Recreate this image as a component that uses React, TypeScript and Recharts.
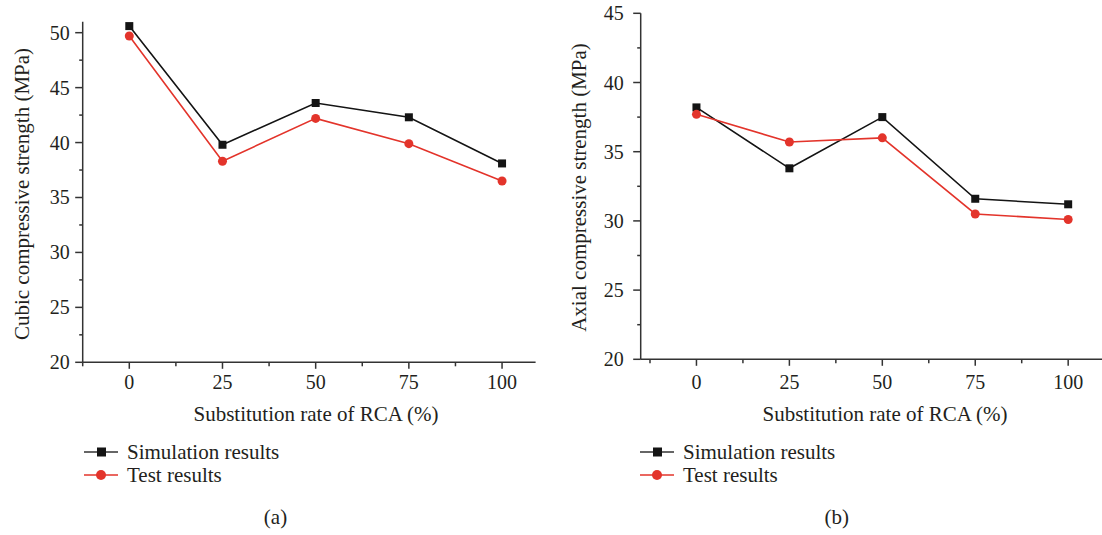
import React from 'react';
import { LineChart, Line, XAxis, YAxis, Legend } from 'recharts';

// ---- data ----
const rcaRates = [0, 25, 50, 75, 100];
const cubicSimulation = [50.6, 39.8, 43.6, 42.3, 38.1];
const cubicTest = [49.7, 38.3, 42.2, 39.9, 36.5];
const axialSimulation = [38.2, 33.8, 37.5, 31.6, 31.2];
const axialTest = [37.7, 35.7, 36.0, 30.5, 30.1];

const xMajorTicks = [0, 25, 50, 75, 100];
const xMinorTicks = [-12.5, 12.5, 37.5, 62.5, 87.5];
const cubicYMajor = [20, 25, 30, 35, 40, 45, 50];
const cubicYMinor = [22.5, 27.5, 32.5, 37.5, 42.5, 47.5];
const axialYMajor = [20, 25, 30, 35, 40, 45];
const axialYMinor = [22.5, 27.5, 32.5, 37.5, 42.5];

const seriesNames = ['Simulation results', 'Test results'];
const xTitle = 'Substitution rate of RCA (%)';
const cubicTitle = 'Cubic compressive strength (MPa)';
const axialTitle = 'Axial compressive strength (MPa)';

// ---- style ----
const FONT = '"Liberation Serif", "Times New Roman", serif';
const TEXT = '#231f20';
const AXIS = '#333333';
const BLACK = '#141414';
const RED = '#e3342b';

const build = (sim: number[], test: number[]) =>
  rcaRates.map((r, i) => ({ rate: r, sim: sim[i], test: test[i] }));

const SquareDot = (p: any) => {
  if (p.cx == null || p.cy == null) return <g key={`sq-${p.index}`} />;
  return <rect key={`sq-${p.index}`} x={p.cx - 4} y={p.cy - 4} width={8} height={8} fill={BLACK} />;
};

type PanelProps = {
  left: number;
  sim: number[];
  test: number[];
  yDomain: [number, number];
  xDomain: [number, number];
  yMajor: number[];
  yMinor: number[];
  margin: { top: number; left: number; right: number; bottom: number };
  yTitle: string;
  yTitleX: number;
  yTitleY: number;
  yLabelGap: number;
  xLabelBaseline: number;
  xTitleBaseline: number;
  xTitleCenter: number;
  legendLeft: number;
};

const Panel = (cfg: PanelProps) => {
  const data = build(cfg.sim, cfg.test);
  const xTicks = [...xMinorTicks, ...xMajorTicks].sort((a, b) => a - b);
  const yTicks = [...cfg.yMinor, ...cfg.yMajor].sort((a, b) => a - b);

  const XTick = (p: any) => {
    const major = xMajorTicks.includes(p.payload.value);
    return (
      <g>
        <line x1={p.x} y1={p.y} x2={p.x} y2={p.y + (major ? 6.5 : 4)} stroke={AXIS} strokeWidth={1.5} />
        {major && (
          <text x={p.x} y={cfg.xLabelBaseline} textAnchor="middle" fontSize={20} fontFamily={FONT} fill={TEXT}>
            {p.payload.value}
          </text>
        )}
      </g>
    );
  };

  const YTick = (p: any) => {
    const major = cfg.yMajor.includes(p.payload.value);
    return (
      <g>
        <line x1={p.x} y1={p.y} x2={p.x - (major ? 7.5 : 3.5)} y2={p.y} stroke={AXIS} strokeWidth={1.5} />
        {major && (
          <text x={p.x - cfg.yLabelGap} y={p.y} dy="0.35em" textAnchor="end" fontSize={20} fontFamily={FONT} fill={TEXT}>
            {p.payload.value}
          </text>
        )}
      </g>
    );
  };

  const legendContent = () => (
    <svg width={260} height={52} style={{ display: 'block', overflow: 'visible' }}>
      {seriesNames.map((name, i) => {
        const cy = 10 + i * 23;
        const color = i === 0 ? BLACK : RED;
        return (
          <g key={name}>
            <line x1={0} y1={cy} x2={34} y2={cy} stroke={i === 0 ? '#333' : RED} strokeWidth={1.5} />
            {i === 0 ? (
              <rect x={13} y={cy - 4.5} width={9} height={9} fill={color} />
            ) : (
              <circle cx={17} cy={cy} r={5} fill={color} />
            )}
            <text x={43} y={cy} dy="0.33em" fontSize={21} fontFamily={FONT} fill={TEXT}>
              {name}
            </text>
          </g>
        );
      })}
    </svg>
  );

  return (
    <div style={{ position: 'absolute', left: cfg.left, top: 0 }}>
      <LineChart width={551} height={535} data={data} margin={cfg.margin}>
        <XAxis
          dataKey="rate"
          type="number"
          domain={cfg.xDomain}
          ticks={xTicks}
          interval={0}
          height={1}
          tickSize={0}
          tickMargin={0}
          tickLine={false}
          allowDataOverflow
          axisLine={{ stroke: AXIS, strokeWidth: 1.5 }}
          tick={XTick}
          label={{
            content: () => (
              <text x={cfg.xTitleCenter - cfg.left} y={cfg.xTitleBaseline} textAnchor="middle" fontSize={21} fontFamily={FONT} fill={TEXT}>
                {xTitle}
              </text>
            ),
          }}
        />
        <YAxis
          type="number"
          domain={cfg.yDomain}
          ticks={yTicks}
          interval={0}
          width={1}
          tickSize={0}
          tickMargin={0}
          tickLine={false}
          allowDataOverflow
          axisLine={{ stroke: AXIS, strokeWidth: 1.5 }}
          tick={YTick}
          label={{
            content: () => (
              <text
                x={cfg.yTitleX - cfg.left}
                y={cfg.yTitleY}
                dy="0.35em"
                textAnchor="middle"
                fontSize={21}
                fontFamily={FONT}
                fill={TEXT}
                transform={`rotate(-90 ${cfg.yTitleX - cfg.left} ${cfg.yTitleY})`}
              >
                {cfg.yTitle}
              </text>
            ),
          }}
        />
        <Line
          dataKey="sim"
          name={seriesNames[0]}
          stroke={BLACK}
          strokeWidth={1.6}
          dot={SquareDot}
          activeDot={false}
          isAnimationActive={false}
        />
        <Line
          dataKey="test"
          name={seriesNames[1]}
          stroke={RED}
          strokeWidth={1.6}
          dot={{ r: 4.5, fill: RED, stroke: RED, strokeWidth: 0 }}
          activeDot={false}
          isAnimationActive={false}
        />
        <Legend
          layout="vertical"
          align="center"
          verticalAlign="middle"
          content={legendContent}
          wrapperStyle={{ left: cfg.legendLeft - cfg.left, top: 441.5, right: 'auto', bottom: 'auto', width: 260, height: 52 }}
        />
      </LineChart>
    </div>
  );
};

export default function App() {
  return (
    <div style={{ position: 'absolute', left: 0, top: 0, width: 1102, height: 535, background: '#fff', overflow: 'hidden', fontFamily: FONT }}>
      <Panel
        left={0}
        sim={cubicSimulation}
        test={cubicTest}
        yDomain={[20, 51]}
        xDomain={[-12.5, 109]}
        yMajor={cubicYMajor}
        yMinor={cubicYMinor}
        margin={{ top: 21.7, left: 81.7, right: 15.4, bottom: 171.7 }}
        yTitle={cubicTitle}
        yTitleX={22}
        yTitleY={194}
        yLabelGap={13}
        xLabelBaseline={388.5}
        xTitleBaseline={421}
        xTitleCenter={316}
        legendLeft={84}
      />
      <Panel
        left={551}
        sim={axialSimulation}
        test={axialTest}
        yDomain={[20, 45]}
        xDomain={[-15, 109.1]}
        yMajor={axialYMajor}
        yMinor={axialYMinor}
        margin={{ top: 13.3, left: 88.7, right: 0, bottom: 174.7 }}
        yTitle={axialTitle}
        yTitleX={579}
        yTitleY={187.5}
        yLabelGap={17}
        xLabelBaseline={388.5}
        xTitleBaseline={421}
        xTitleCenter={885}
        legendLeft={640}
      />
      <svg width={1102} height={535} style={{ position: 'absolute', left: 0, top: 0, pointerEvents: 'none' }}>
        <text x={275.5} y={523.5} textAnchor="middle" fontSize={21} fontFamily={FONT} fill={TEXT}>(a)</text>
        <text x={836.7} y={523.5} textAnchor="middle" fontSize={21} fontFamily={FONT} fill={TEXT}>(b)</text>
      </svg>
    </div>
  );
}
